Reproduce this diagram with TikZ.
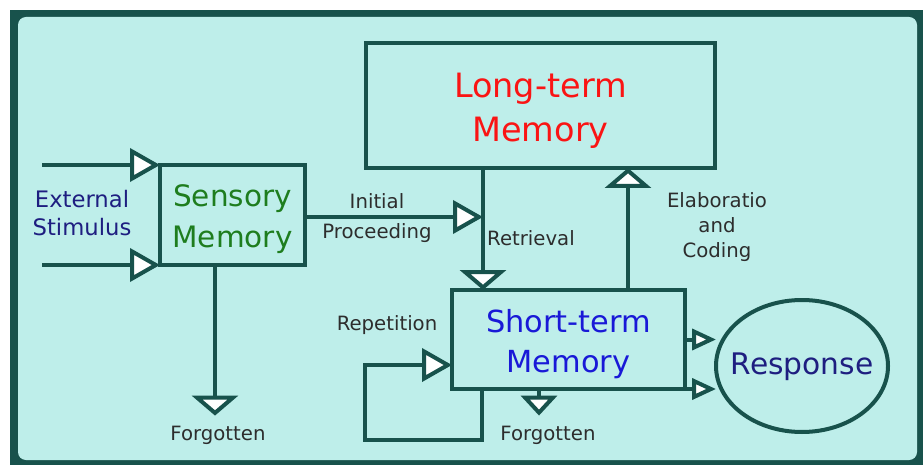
\documentclass[tikz,border=0pt]{standalone}
\usepackage{fontspec}
\setmainfont{DejaVu Sans}
\usetikzlibrary{arrows.meta, calc, shapes.geometric}
\definecolor{frame}{RGB}{24,82,76}
\definecolor{pale}{RGB}{190,238,234}
\definecolor{navy}{RGB}{30,30,128}
\definecolor{leaf}{RGB}{30,125,30}
\definecolor{ltmred}{RGB}{250,20,20}
\definecolor{stmblue}{RGB}{25,25,215}
\definecolor{note}{RGB}{45,45,45}
\tikzset{
  membox/.style={draw=frame, line width=4pt, inner sep=0pt, outer sep=0pt},
  boxtext/.style={align=center, inner sep=0pt},
  flow/.style={draw=frame, line width=4pt, -{Triangle[length=30pt,width=33pt,fill=white]}},
  flowflat/.style={draw=frame, line width=4pt, -{Triangle[length=20pt,width=46pt,fill=white]}},
  flowsmall/.style={draw=frame, line width=4pt, -{Triangle[length=24pt,width=21pt,fill=white]}},
  flowtiny/.style={draw=frame, line width=4pt, -{Triangle[length=20pt,width=36pt,fill=white]}},
  lbl/.style={text=note, font=\fontsize{19.7}{25}\selectfont, align=center, inner sep=0pt},
}

\begin{document}
\begin{tikzpicture}[x=1pt, y=-1pt]
	\useasboundingbox (0,0) rectangle (923,465);%
	\fill[frame] (10,10) rectangle (923,465);%
	\fill[pale, rounded corners=8pt] (18,17) rectangle (917,460);%
	%
	\node[membox, minimum width=349pt, minimum height=125pt,
		label={[boxtext, yshift=-5pt, text=ltmred, font=\fontsize{33.5}{44}\selectfont]center:Long-term\\Memory}] (ltm) at (540.5,105.5) {};%
	\node[membox, minimum width=145pt, minimum height=100pt,
		label={[boxtext, yshift=-4pt, text=leaf, font=\fontsize{29.5}{41}\selectfont]center:Sensory\\Memory}] (sens) at (232.5,215) {};%
	\node[membox, minimum width=233pt, minimum height=99pt,
		label={[boxtext, yshift=-5pt, text=stmblue, font=\fontsize{30.4}{40}\selectfont]center:Short-term\\Memory}] (stm) at (568.5,339.5) {};%
	\node[membox, ellipse, minimum width=172pt, minimum height=132pt,
		label={[boxtext, yshift=-1pt, text=navy, font=\fontsize{29.7}{34}\selectfont]center:Response}] (resp) at (802,366) {};%
	%
	\node[text=navy, font=\fontsize{22.7}{28}\selectfont, align=center, inner sep=0pt] (ext) at (82,213) {External\\Stimulus};%
	\node[lbl] (init) at (377,201) {Initial};%
	\node[lbl] (proc) at (377,233) {Proceeding};%
	\node[lbl] (retr) at (531,238) {Retrieval};%
	\node[lbl] (elab) at (717,227) {Elaboratio\\and\\Coding};%
	\node[lbl] (rept) at (387,325) {Repetition};%
	\node[lbl] (fgsens) at (218,435) {Forgotten};%
	\node[lbl] (fgstm) at (548,435) {Forgotten};%
	%
	\coordinate (in1) at (42,165);%
	\coordinate (in2) at (42,265);%
	\coordinate (initstart) at ([yshift=-2pt]sens.east);%
	\coordinate (rettop) at ([xshift=117pt]ltm.south west);%
	\coordinate (elabfoot) at ([xshift=176pt]stm.north west);%
	\coordinate (sensdrop) at ([xshift=55pt]sens.south west);%
	\coordinate (stmdrop) at ([xshift=87pt]stm.south west);%
	\coordinate (repfoot) at ([xshift=30pt]stm.south west);%
	\coordinate (repcorner) at (365,440);%
	\coordinate (repin) at (452,365);%
	%
	\draw[flow] (in1) -- (sens.north west);%
	\draw[flow] (in2) -- (sens.south west);%
	\draw[flow] (initstart) -- (initstart -| rettop);%
	\draw[flowflat] (rettop) -- (rettop |- stm.north);%
	\draw[flowflat] (elabfoot) -- (elabfoot |- ltm.south);%
	\draw[flowflat] (sensdrop) -- ($(sensdrop |- fgsens.north)+(0,-10)$);%
	\draw[flowtiny] (stmdrop) -- ($(stmdrop |- fgstm.north)+(0,-10)$);%
	\draw[flowsmall] (stm.east) -- (stm.east -| resp.west);%
	\draw[flowsmall] (stm.south east) -- (stm.south east -| resp.west);%
	\draw[flow] (repfoot) |- (repcorner) |- (repin);%
\end{tikzpicture}
\end{document}
